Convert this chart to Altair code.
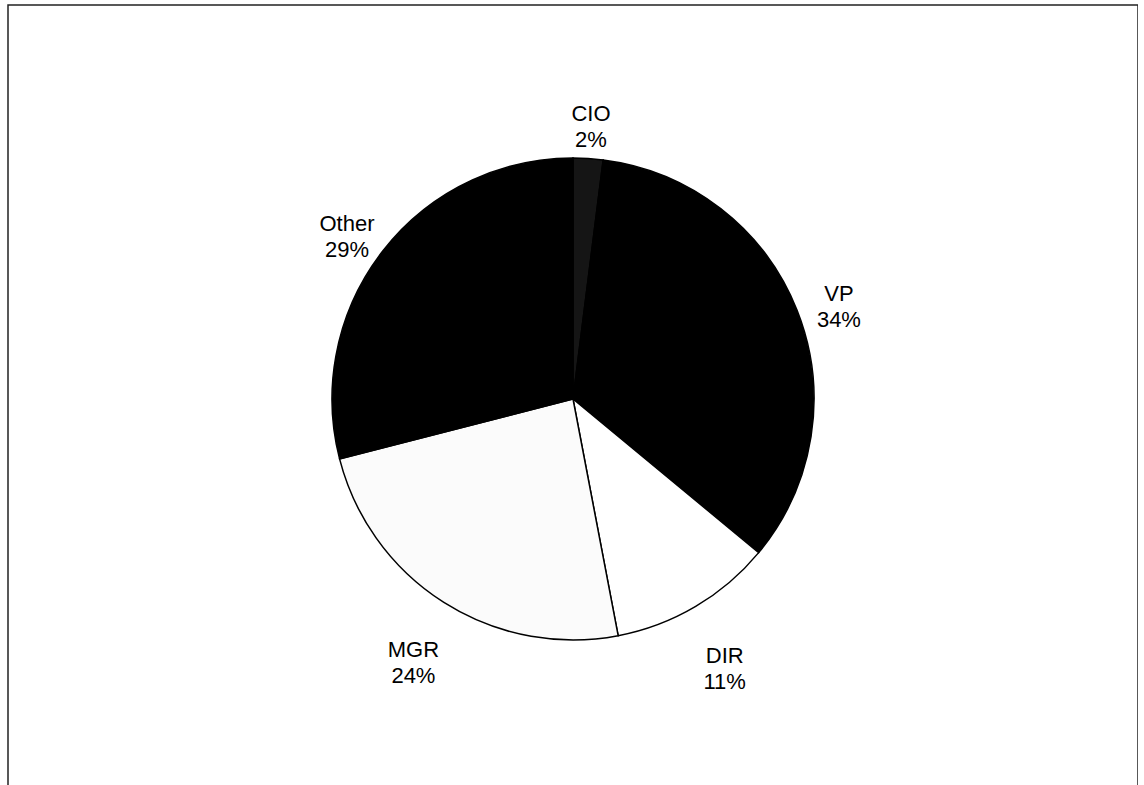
import altair as alt
import pandas as pd

categories = ["CIO", "VP", "DIR", "MGR", "Other"]
shares = [2, 34, 11, 24, 29]

palette = ["#151515", "#000000", "#ffffff", "#fbfbfb", "#000000"]

df = pd.DataFrame({
    "role": categories,
    "share": shares,
    "order": list(range(len(categories))),
})
df["label"] = [f"{c}\n{s}%" for c, s in zip(categories, shares)]

R = 241

pie = alt.Chart(df).mark_arc(outerRadius=R, stroke="black", strokeWidth=1.5).encode(
    theta=alt.Theta("share:Q", stack=True),
    order=alt.Order("order:Q"),
    color=alt.Color("role:N", scale=alt.Scale(domain=categories, range=palette), legend=None),
)

labels = alt.Chart(df).transform_window(
    cum="sum(share)", sort=[alt.SortField("order")]
).transform_joinaggregate(
    total="sum(share)"
).transform_calculate(
    mid="(datum.cum - datum.share/2) / datum.total * 2 * PI",
).transform_calculate(
    labelR="286 + 14 * max(0, -cos(datum.mid))"
).mark_text(
    lineBreak="\n", lineHeight=26, fontSize=22, font="Liberation Sans",
    color="black", align="center", baseline="middle"
).encode(
    theta=alt.Theta("mid:Q", scale=None),
    radius=alt.Radius("labelR:Q", scale=None),
    text="label:N",
)

frame = alt.Chart(alt.Data(values=[{}])).mark_rect(
    filled=False, stroke="#222222", strokeWidth=1.5
).encode(
    x=alt.value(0), x2=alt.value(1130), y=alt.value(0), y2=alt.value(800)
)

chart = alt.layer(frame, pie, labels).properties(
    width=1130, height=788,
    autosize=alt.AutoSizeParams(type="none"),
    padding={"left": 8, "top": 5, "right": 0, "bottom": 0},
    background="white",
).configure_view(stroke=None)

chart.save("out.html", embed_options={"renderer": "svg", "actions": False})
